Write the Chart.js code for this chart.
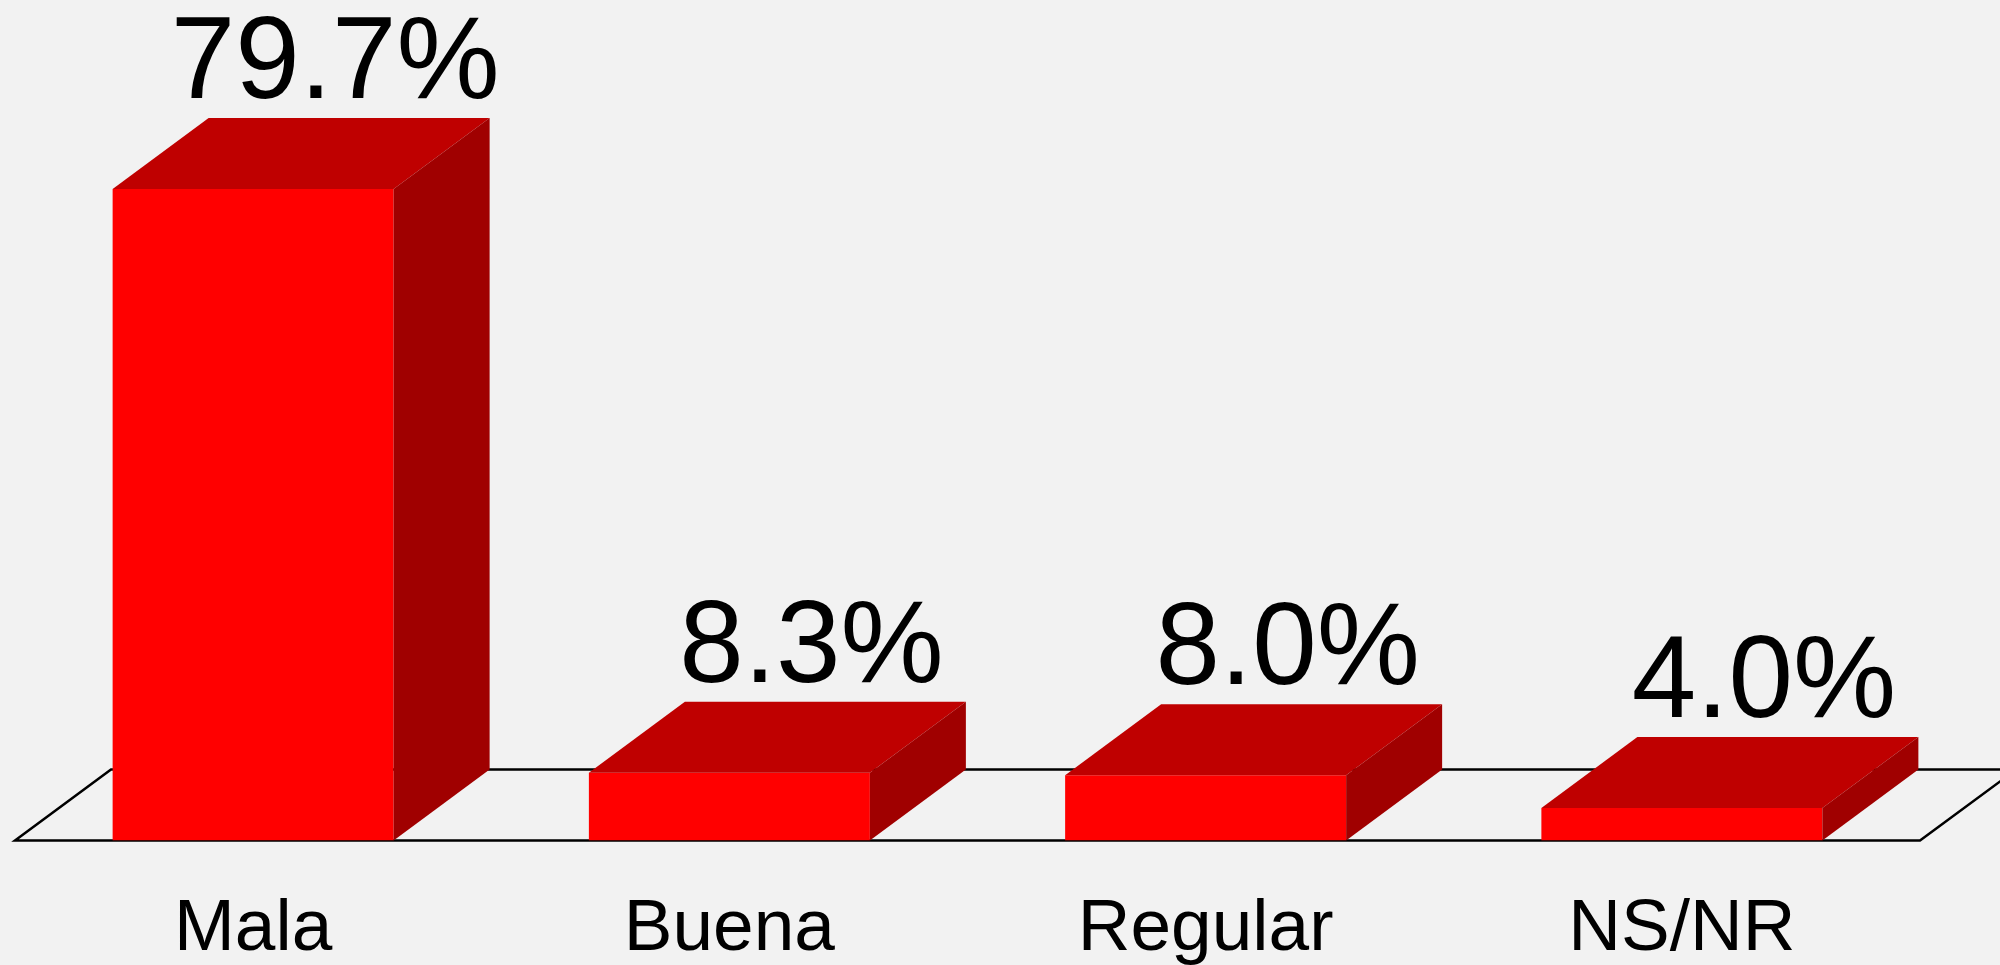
<!DOCTYPE html>
<html>
<head>
<meta charset="utf-8">
<script src="https://cdn.jsdelivr.net/npm/chart.js@4/dist/chart.umd.min.js"></script>
<style>
  html, body { margin: 0; padding: 0; background: #f2f2f2; }
  #wrap { width: 2000px; height: 965px; }
</style>
</head>
<body>
<div id="wrap"><canvas id="myChart"></canvas></div>
<script>
const categories = ["Mala", "Buena", "Regular", "NS/NR"];
const percentValues = [79.7, 8.3, 8.0, 4.0];
const valueLabels = ["79.7%", "8.3%", "8.0%", "4.0%"];

// fake 3d depth of the boxes, in px
const depthX = 96;
const depthY = 71;

const box3d = {
  id: "box3d",
  beforeDatasetsDraw(chart) {
    const ctx = chart.ctx;
    const area = chart.chartArea;
    const y0 = chart.scales.y.getPixelForValue(0);
    ctx.save();
    ctx.strokeStyle = "#000";
    ctx.lineWidth = 2.5;
    ctx.beginPath();
    ctx.moveTo(area.left, y0);
    ctx.lineTo(area.right, y0);
    ctx.lineTo(area.right + depthX, y0 - depthY);
    ctx.lineTo(area.left + depthX, y0 - depthY);
    ctx.closePath();
    ctx.stroke();
    ctx.restore();
  },
  afterDatasetsDraw(chart) {
    const ctx = chart.ctx;
    const meta = chart.getDatasetMeta(0);
    ctx.save();
    meta.data.forEach((bar, i) => {
      const p = bar.getProps(["x", "y", "base", "width"], true);
      const left = p.x - p.width / 2;
      const right = p.x + p.width / 2;
      // top face
      ctx.fillStyle = "#bf0000";
      ctx.beginPath();
      ctx.moveTo(left, p.y);
      ctx.lineTo(left + depthX, p.y - depthY);
      ctx.lineTo(right + depthX, p.y - depthY);
      ctx.lineTo(right, p.y);
      ctx.closePath();
      ctx.fill();
      // side face
      ctx.fillStyle = "#a00000";
      ctx.beginPath();
      ctx.moveTo(right, p.y);
      ctx.lineTo(right + depthX, p.y - depthY);
      ctx.lineTo(right + depthX, p.base - depthY);
      ctx.lineTo(right, p.base);
      ctx.closePath();
      ctx.fill();
      // value label
      ctx.fillStyle = "#000";
      ctx.font = "116px 'Liberation Sans', Arial, sans-serif";
      ctx.textAlign = "center";
      ctx.textBaseline = "alphabetic";
      ctx.fillText(valueLabels[i], p.x + 82, p.y - depthY - 20);
    });
    ctx.restore();
  }
};

const chartData = {
  labels: categories,
  datasets: [
    {
      label: "Porcentaje",
      data: percentValues,
      backgroundColor: "#ff0000",
      borderWidth: 0,
      barPercentage: 0.59,
      categoryPercentage: 1,
    },
  ],
};

const config = {
  type: "bar",
  data: chartData,
  options: {
    responsive: true,
    maintainAspectRatio: false,
    animation: false,
    layout: { padding: { top: 23, left: 15, right: 80, bottom: 0 } },
    plugins: {
      legend: { display: false },
      tooltip: { enabled: false },
    },
    scales: {
      x: {
        grid: { display: false, drawTicks: false },
        border: { display: false },
        ticks: {
          color: "#000",
          padding: 49,
          maxRotation: 0,
          autoSkip: false,
          font: { family: "Liberation Sans", size: 73, lineHeight: 1.1 },
        },
        afterFit(scale) {
          scale.height = 124.4;
        },
      },
      y: { display: false, min: 0, max: 100 },
    },
  },
  plugins: [box3d],
};

const myChart = new Chart(document.getElementById("myChart"), config);
</script>
</body>
</html>
